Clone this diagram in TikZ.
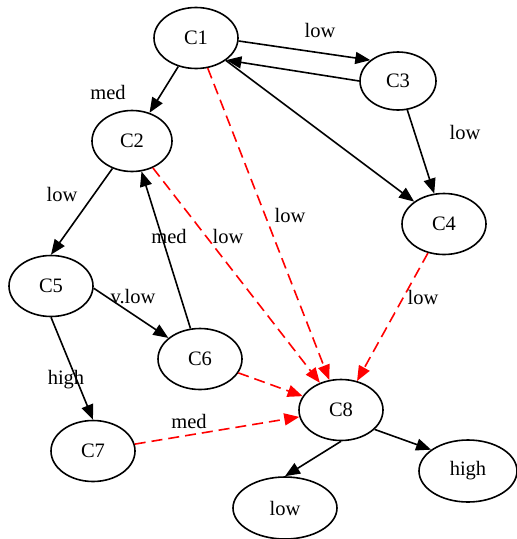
\documentclass[tikz,border=0pt]{standalone}
\usepackage{fontspec}
\setmainfont{Liberation Serif}
\usetikzlibrary{shapes.geometric,arrows.meta}
\begin{document}
\begin{tikzpicture}[x=1pt,y=-1pt,
  cnode/.style={ellipse,draw,line width=1.6pt,minimum width=84pt,minimum height=61pt,inner sep=0pt,font=\fontsize{20.5}{24}\selectfont},
  lab/.style={font=\fontsize{20.5}{24}\selectfont,inner sep=0pt},
  arr/.style={line width=1.6pt,-{Triangle[length=15pt,width=12pt]}},
  rarr/.style={arr,red,dash pattern=on 11pt off 6pt}]
\useasboundingbox (0,0) rectangle (517,539);
\node[cnode] (C1) at (196,38) {C1};
\node[cnode,minimum width=76pt,minimum height=58pt] (C3) at (398,81) {C3};
\node[cnode,minimum width=80pt] (C2) at (132,141) {C2};
\node[cnode] (C4) at (444,224) {C4};
\node[cnode] (C5) at (51,286) {C5};
\node[cnode] (C6) at (200,359) {C6};
\node[cnode] (C8) at (341,410) {C8};
\node[cnode] (C7) at (93,451) {C7};
\node[cnode,minimum width=98pt,minimum height=62pt] (high) at (468,471) {high};
\node[cnode,minimum width=104pt,minimum height=62pt] (low) at (285,508) {low};

\draw[arr] (C1.-4) -- (C3.143);
\draw[arr] (C3.west) -- (C1.-36);
\draw[arr] (C1) -- (C2);
\draw[arr] (C1) -- (C4);
\draw[arr] (C3) -- (C4);
\draw[arr] (C2) -- (C5.north);
\draw[arr] (C6) -- (C2);
\draw[arr] (C5.-3) -- (C6);
\draw[arr] (C5.south) -- (C7.north);
\draw[arr] (C8.-30) -- (high.150);
\draw[arr] (C8.south) -- (low.north);
\draw[rarr] (C1) -- (C8);
\draw[rarr] (C2) -- (C8);
\draw[rarr] (C4) -- (C8);
\draw[rarr] (C6) -- (C8);
\draw[rarr] (C7) -- (C8);

\node[lab] (l13) at (320,30) {low};
\node[lab] (l12) at (108,92) {med};
\node[lab] (l34) at (465,132) {low};
\node[lab] (l25) at (62,194) {low};
\node[lab] (l62) at (169,236) {med};
\node[lab] (l28) at (228,236) {low};
\node[lab] (l18) at (290,215) {low};
\node[lab] (l48) at (423,297) {low};
\node[lab] (l56) at (133,297) {v.low};
\node[lab] (l57) at (66,380) {high};
\node[lab] (l78) at (189,421) {med};
\end{tikzpicture}
\end{document}
